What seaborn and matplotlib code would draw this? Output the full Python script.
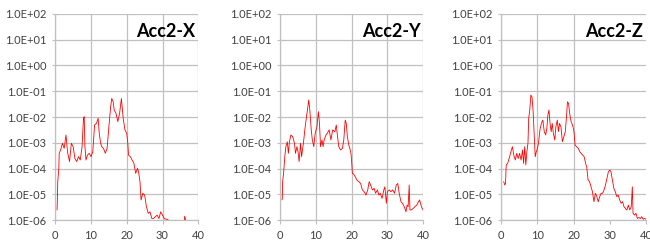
import numpy as np
import pandas as pd
import matplotlib
matplotlib.use("Agg")
import matplotlib.pyplot as plt
import seaborn as sns
from matplotlib.ticker import FixedLocator, FuncFormatter

# --------------------------------------------
# Data (frequency in Hz, amplitude as log10 exponent)
# --------------------------------------------
freq_x = [0.5, 0.6, 0.7, 1.0, 1.1, 1.5, 2.0, 2.5, 3.0, 3.3, 3.5, 4.0, 4.5, 5.0, 5.5,
          6.0, 6.5, 7.0, 7.5, 7.9, 8.1, 8.3, 8.6, 9.0, 9.5, 10.0, 10.5, 11.0, 11.5,
          12.0, 12.3, 12.7, 13.0, 13.5, 14.0, 14.5, 15.0, 15.5, 15.8, 16.2, 16.5,
          17.0, 17.5, 18.0, 18.5, 18.8, 19.0, 19.5, 20.0, 20.3, 20.5, 21.0, 21.5,
          22.0, 22.5, 23.0, 23.3, 23.7, 24.0, 24.5, 25.0, 25.5, 26.0, 26.5, 27.0,
          27.5, 28.0, 28.5, 29.0, 29.5, 30.0, 30.5, 31.0, 31.5, 32.0, 36.0, 36.2,
          36.4, 36.6]
exp_x = [-5.61, -5.22, -4.51, -3.99, -3.41, -3.28, -3.02, -3.22, -2.70, -3.15, -3.41,
         -3.73, -3.02, -3.15, -3.61, -3.73, -3.54, -3.67, -3.15, -2.05, -1.99, -3.15,
         -3.67, -3.48, -3.41, -3.54, -3.35, -2.31, -2.25, -2.05, -2.63, -3.02, -3.15,
         -3.22, -3.41, -3.22, -2.38, -1.60, -1.28, -1.41, -1.73, -1.86, -2.18, -1.86,
         -1.28, -1.73, -2.05, -2.50, -2.63, -3.02, -3.48, -3.54, -3.67, -3.80, -4.19,
         -3.99, -4.12, -4.51, -5.22, -4.96, -5.03, -5.48, -5.74, -5.68, -5.94, -5.94,
         -5.87, -5.81, -5.94, -5.68, -5.81, -5.94, -5.97, -5.97, -6.40, -6.40, -5.85,
         -5.95, -6.40]

freq_y = [0.5, 0.6, 0.7, 1.0, 1.3, 1.6, 2.0, 2.3, 2.6, 3.0, 3.5, 4.0, 4.3, 4.7, 5.0,
          5.3, 5.7, 6.0, 6.5, 7.0, 7.5, 8.0, 8.3, 8.7, 9.0, 9.4, 9.8, 10.3, 10.7,
          11.0, 11.3, 11.7, 12.0, 12.3, 12.8, 13.2, 13.7, 14.2, 14.7, 15.3, 15.7,
          16.0, 16.4, 16.9, 17.4, 17.8, 18.2, 18.5, 18.8, 19.2, 19.5, 19.8, 20.0,
          20.2, 20.5, 21.0, 21.5, 22.0, 22.5, 23.0, 23.5, 24.0, 24.5, 24.9, 25.3,
          25.8, 26.3, 26.7, 27.2, 27.6, 28.0, 28.5, 29.0, 29.3, 29.7, 30.0, 30.5,
          31.0, 31.5, 32.0, 32.5, 32.9, 33.3, 33.8, 34.2, 34.7, 35.2, 35.5, 35.8,
          36.1, 36.3, 36.7, 37.2, 37.7, 38.2, 38.7, 39.0, 39.4, 39.7, 40.0]
exp_y = [-5.22, -5.16, -4.51, -4.12, -3.54, -3.15, -2.96, -3.41, -2.96, -2.70, -2.76,
         -3.02, -3.41, -3.15, -3.35, -3.73, -3.02, -3.54, -3.02, -2.38, -1.86, -1.34,
         -1.73, -2.50, -2.89, -3.15, -2.63, -2.38, -1.79, -2.25, -3.15, -2.89, -3.15,
         -2.89, -2.70, -2.63, -2.50, -2.89, -2.50, -2.57, -2.31, -2.70, -3.15, -3.28,
         -3.22, -2.89, -2.12, -2.25, -2.76, -3.09, -3.22, -3.41, -3.73, -4.19, -4.21,
         -4.32, -4.45, -4.51, -4.58, -4.83, -4.90, -5.03, -4.83, -4.51, -4.64, -4.83,
         -4.77, -4.96, -4.83, -5.03, -4.96, -5.16, -4.83, -4.71, -5.35, -4.90, -4.83,
         -4.90, -4.83, -4.96, -4.64, -4.58, -4.96, -5.29, -5.35, -5.48, -5.68, -5.42,
         -5.48, -4.64, -5.61, -5.61, -5.55, -5.48, -5.42, -5.29, -5.22, -5.42, -5.55,
         -5.61]

freq_z = [0.7, 1.0, 1.2, 1.4, 1.8, 2.2, 2.7, 3.1, 3.5, 3.9, 4.3, 4.7, 5.1, 5.5, 5.9,
          6.2, 6.5, 6.8, 7.1, 7.4, 7.6, 7.9, 8.2, 8.5, 8.8, 9.1, 9.4, 9.7, 10.0,
          10.3, 10.7, 11.1, 11.5, 11.9, 12.3, 12.6, 12.9, 13.2, 13.5, 13.8, 14.1,
          14.4, 14.8, 15.1, 15.5, 15.8, 16.1, 16.5, 16.9, 17.3, 17.7, 18.0, 18.3,
          18.6, 18.9, 19.3, 19.7, 20.1, 20.4, 20.8, 21.3, 21.7, 22.1, 22.5, 22.9,
          23.3, 23.6, 24.0, 24.4, 24.8, 25.2, 25.6, 26.0, 26.4, 26.8, 27.2, 27.6,
          28.0, 28.4, 28.8, 29.2, 29.6, 30.0, 30.3, 30.7, 31.1, 31.5, 31.9, 32.3,
          32.7, 33.1, 33.5, 33.9, 34.3, 34.7, 35.1, 35.5, 35.9, 36.2, 36.4, 36.8,
          37.2, 37.6, 38.0, 38.4, 38.8, 39.2, 39.6, 40.0]
exp_z = [-4.51, -4.64, -4.58, -3.86, -3.80, -3.61, -3.35, -3.15, -3.48, -3.67, -3.41,
         -3.61, -3.41, -3.67, -3.28, -3.80, -3.15, -3.86, -3.35, -3.02, -2.05, -1.73,
         -1.15, -1.21, -1.73, -2.63, -3.54, -3.35, -3.22, -3.02, -2.50, -2.25, -2.12,
         -2.57, -2.70, -2.44, -1.92, -1.73, -2.25, -2.57, -2.25, -2.63, -2.89, -2.38,
         -2.12, -2.57, -2.25, -2.38, -2.96, -2.76, -2.57, -2.05, -1.41, -1.47, -1.86,
         -2.18, -2.31, -2.57, -3.09, -3.15, -3.22, -3.35, -3.41, -3.48, -3.54, -3.80,
         -3.93, -4.45, -4.51, -4.71, -4.90, -5.29, -4.96, -5.09, -5.29, -5.09, -4.96,
         -4.96, -4.83, -4.64, -4.38, -4.12, -4.06, -4.12, -4.45, -4.77, -4.90, -5.09,
         -5.03, -5.22, -5.35, -5.29, -5.48, -5.55, -5.61, -5.42, -5.61, -5.48, -4.71,
         -5.74, -5.81, -5.74, -5.94, -5.90, -5.94, -5.87, -5.97, -5.94, -5.97]

titles = ["Acc2-X", "Acc2-Y", "Acc2-Z"]
freqs = [freq_x, freq_y, freq_z]
exps = [exp_x, exp_y, exp_z]
y_ticks = [1e-6, 1e-5, 1e-4, 1e-3, 1e-2, 1e-1, 1e0, 1e1, 1e2]
x_ticks = [0, 10, 20, 30, 40]

# --------------------------------------------
# Style
# --------------------------------------------
sns.set_style("white")
plt.rcParams["font.family"] = ["Lato", "DejaVu Sans"]
grid_col = "#c0c0c0"

fig = plt.figure(figsize=(6.5, 2.41), dpi=100)
lefts = [0.085, 0.431, 0.771]
widths = [0.220, 0.220, 0.223]

for i in range(3):
    ax = fig.add_axes([lefts[i], 0.087, widths[i], 0.855])
    df = pd.DataFrame({"f": freqs[i], "amp": 10.0 ** np.array(exps[i])})
    ax.set_yscale("log")
    sns.lineplot(data=df, x="f", y="amp", ax=ax, color="red", linewidth=0.6,
                 estimator=None, sort=False)
    ax.set_xlim(0, 40)
    ax.set_ylim(1e-6, 1e2)
    ax.yaxis.set_major_locator(FixedLocator(y_ticks))
    ax.yaxis.set_minor_locator(FixedLocator([]))
    ax.yaxis.set_major_formatter(FuncFormatter(lambda v, p: f"{v:.1E}"))
    ax.set_xticks(x_ticks)
    ax.set_xlabel("")
    ax.set_ylabel("")
    ax.grid(True, color=grid_col, linewidth=0.9)
    if i == 2:
        # last panel has no vertical lines at 30 and 40
        for gl in ax.get_xgridlines()[3:]:
            gl.set_visible(False)
    for side in ["top", "right"]:
        ax.spines[side].set_visible(False)
    for side in ["left", "bottom"]:
        ax.spines[side].set_color(grid_col)
        ax.spines[side].set_linewidth(0.9)
    ax.tick_params(axis="y", direction="inout", length=5, color=grid_col,
                   labelsize=8, labelcolor="#404040", pad=4, left=True)
    ax.tick_params(axis="x", direction="out", length=3, color=grid_col,
                   labelsize=8, labelcolor="#404040", pad=4, bottom=True)
    ax.text(0.98, 0.955, titles[i], transform=ax.transAxes, ha="right", va="top",
            fontsize=13, fontweight="bold", color="black")

plt.savefig("out.png", dpi=100)
plt.close()
